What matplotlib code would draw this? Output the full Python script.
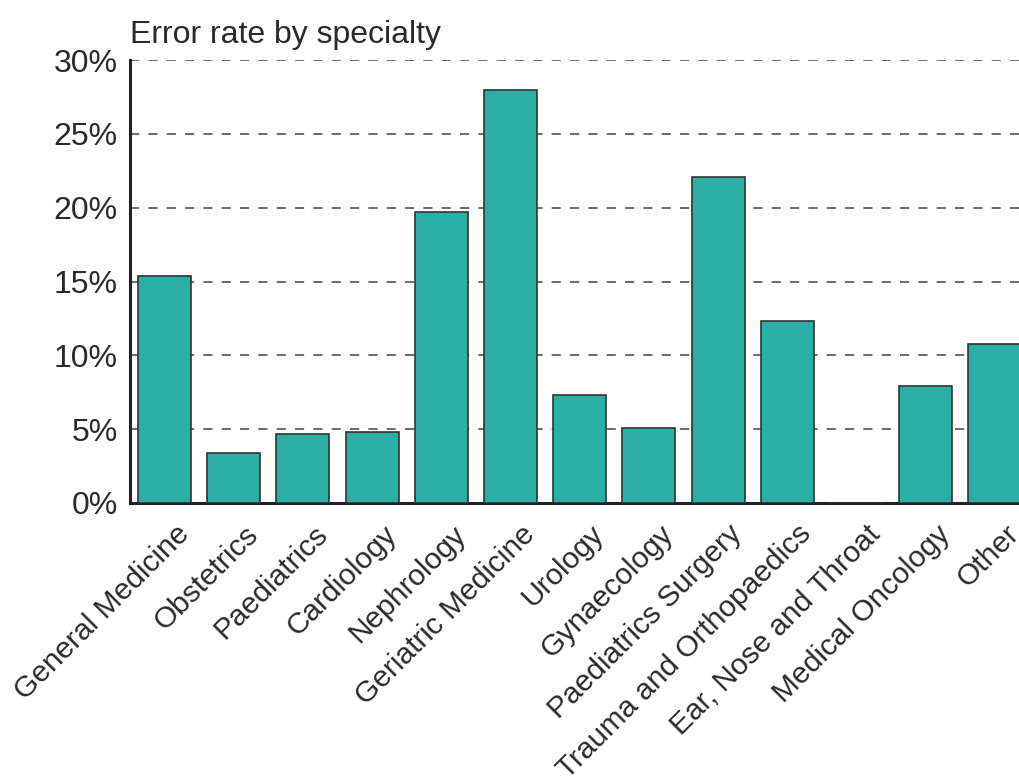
import matplotlib
matplotlib.use("Agg")
import matplotlib.pyplot as plt
import matplotlib.transforms as mtransforms
from matplotlib.ticker import PercentFormatter

specialties = ["General Medicine", "Obstetrics", "Paediatrics", "Cardiology",
               "Nephrology", "Geriatric Medicine", "Urology", "Gynaecology",
               "Paediatrics Surgery", "Trauma and Orthopaedics",
               "Ear, Nose and Throat", "Medical Oncology", "Other"]
error_rate = [15.4, 3.4, 4.7, 4.8, 19.7, 28.0, 7.3, 5.1, 22.1, 12.3, 0.0, 7.9, 10.8]
y_ticks = [0, 5, 10, 15, 20, 25, 30]

plt.rcParams['font.family'] = ['Liberation Sans', 'DejaVu Sans']
text_color = '#2a2a2a'

fig = plt.figure(figsize=(10.19, 7.81), dpi=100)
ax = fig.add_axes([0.1276, 0.356, 0.8724, 0.567])

x = range(len(specialties))
ax.bar(x, error_rate, width=0.766, color='#2BAFA4', edgecolor='#333333',
       linewidth=1.2, zorder=3)

ax.set_xlim(-0.5, 12.35)
ax.set_ylim(0, 30)
ax.set_yticks(y_ticks)
ax.yaxis.set_major_formatter(PercentFormatter(decimals=0))
ax.grid(axis='y', color='#444444', linestyle=(0, (6, 6)), linewidth=1.1, zorder=0)

for side in ['top', 'right']:
    ax.spines[side].set_visible(False)
for side in ['left', 'bottom']:
    ax.spines[side].set_linewidth(2.2)
    ax.spines[side].set_color('#222222')

ax.tick_params(axis='y', length=0, pad=9, labelsize=23, labelcolor=text_color)
ax.tick_params(axis='x', length=0, labelsize=21.5, labelcolor=text_color)
ax.set_xticks(list(x))
ax.set_xticklabels(specialties, rotation=45, ha='right', va='center',
                   rotation_mode='anchor')
# push the slanted labels so their ends sit just right of each bar centre
shift = mtransforms.ScaledTranslation(0.2, -0.22, fig.dpi_scale_trans)
for lbl in ax.get_xticklabels():
    lbl.set_transform(lbl.get_transform() + shift)

ax.set_title('Error rate by specialty', loc='left', fontsize=23,
             color=text_color, pad=12)

fig.savefig('out.png', dpi=100)
